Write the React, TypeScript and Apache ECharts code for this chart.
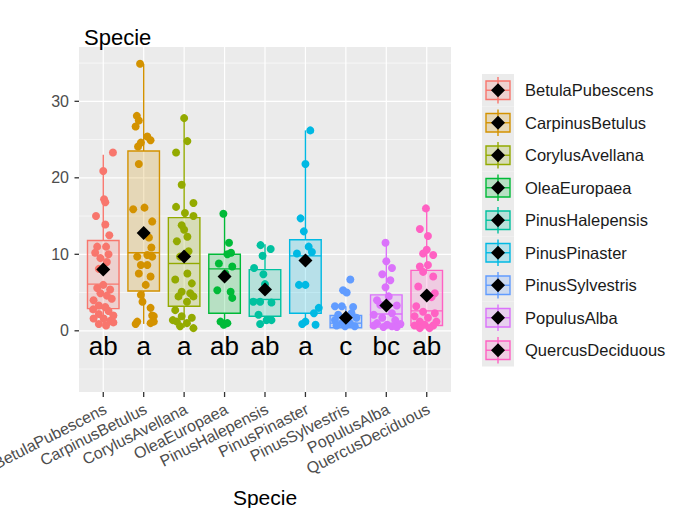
import React, { useEffect, useRef } from "react";
import * as echarts from "echarts";

const categories = [
  "BetulaPubescens", "CarpinusBetulus", "CorylusAvellana", "OleaEuropaea",
  "PinusHalepensis", "PinusPinaster", "PinusSylvestris", "PopulusAlba", "QuercusDeciduous",
];
const colors = ["#F8766D", "#D39200", "#93AA00", "#00BA38", "#00C19F", "#00B9E3", "#619CFF", "#DB72FB", "#FF61C3"];

const q1 = [2.9, 5.2, 3.2, 2.3, 1.9, 2.3, 0.4, 0.5, 0.7];
const medians = [6.1, 10.2, 8.8, 8.1, 4.1, 9.8, 1.0, 2.2, 2.6];
const q3 = [11.8, 23.5, 14.8, 10.0, 8.0, 11.9, 2.0, 4.7, 7.9];
const whiskerLow = [0.5, 0.9, 0.4, 0.8, 0.9, 0.8, 0.3, 0.4, 0.3];
const whiskerHigh = [23.0, 34.9, 27.7, 15.4, 11.3, 26.2, 3.2, 11.5, 16.0];
const means = [8.0, 12.8, 9.7, 7.1, 5.4, 9.2, 1.7, 3.3, 4.6];
const letters = ["ab", "a", "a", "ab", "ab", "a", "c", "bc", "ab"];
const letterLevel = -2.0;

const yTicks = [0, 10, 20, 30];
const yMinorGrid = [-5, 5, 15, 25, 35];

// jittered observations: values and horizontal jitter (category units)
const betulaVals = [23.3, 20.9, 17.2, 16.8, 15.0, 13.9, 12.5, 11.0, 11.0, 10.2, 10.0, 9.5, 9.0, 8.1, 6.0, 5.6, 5.4, 4.9, 4.6, 4.0, 4.2, 3.3, 3.1, 2.8, 2.6, 2.2, 2.0, 1.6, 1.6, 1.3, 0.9, 0.7, 1.1];
const betulaJit = [0.24, 0, 0.02, 0.05, -0.18, 0.05, 0.15, -0.15, 0.07, -0.2, 0.13, -0.07, 0.09, -0.11, 0, -0.15, 0.17, -0.07, 0.09, -0.24, 0.21, -0.11, 0.05, -0.25, 0.13, -0.11, 0.25, -0.24, 0.01, 0.17, -0.11, 0.07, 0.25];
const carpinusVals = [34.9, 28.1, 27.5, 26.7, 25.4, 24.9, 24.6, 24.1, 21.8, 15.9, 16.1, 14.3, 12.2, 10.9, 9.7, 8.6, 8.6, 9.7, 7.5, 7.1, 6.0, 4.7, 3.8, 3.0, 1.9, 1.2, 1.0, 2.0, 1.2, 0.9, 9.9];
const carpinusJit = [-0.09, -0.17, -0.12, -0.2, 0.09, 0.17, -0.07, -0.14, -0.12, -0.26, 0.02, 0.21, 0.13, 0.19, -0.16, -0.07, 0.09, 0.21, -0.12, 0.17, 0.05, -0.07, -0.03, 0.17, 0.25, -0.16, 0.17, 0.21, 0.25, -0.2, 0.09];
const corylusVals = [27.8, 24.8, 23.3, 19.1, 16.2, 16.7, 15.4, 15.0, 13.8, 13.2, 12.3, 11.7, 10.4, 9.7, 7.5, 6.7, 6.2, 5.1, 4.9, 4.5, 4.5, 3.8, 2.7, 1.9, 1.7, 1.2, 1.0, 0.35, 0.6, 1.4];
const corylusJit = [0, 0.08, -0.2, -0.06, -0.2, 0.23, 0.02, 0.23, -0.06, 0, 0.08, -0.18, 0.11, -0.1, 0.08, -0.22, 0.19, -0.06, 0.15, 0.23, -0.14, 0.07, -0.22, -0.06, 0.19, -0.18, 0.07, 0.23, -0.1, -0.28];
const oleaVals = [15.3, 11.5, 10.2, 10.0, 8.8, 8.4, 7.5, 5.3, 5.1, 4.3, 1.2, 0.8, 1.0];
const oleaJit = [-0.03, 0.11, 0.16, 0.07, -0.14, 0.19, 0.02, -0.18, 0.15, 0.19, -0.1, -0.02, 0.07];
const halepensisVals = [11.2, 10.7, 9.8, 8.2, 7.4, 6.1, 3.8, 3.8, 3.7, 2.1, 1.4, 1.4, 0.9];
const halepensisJit = [-0.11, 0.14, -0.06, -0.27, -0.04, 0, -0.29, -0.12, 0.16, -0.16, 0.04, 0.16, -0.12];
const pinasterVals = [26.2, 21.8, 14.7, 13.0, 11.0, 10.1, 10.3, 6.0, 6.0, 3.0, 2.3, 1.2, 0.8, 0.9];
const pinasterJit = [0.12, 0, -0.12, -0.04, 0.08, -0.21, 0.16, -0.16, 0, 0.33, 0.21, 0, 0.25, -0.08];
const sylvestrisVals = [6.7, 5.3, 5.0, 3.2, 3.2, 3.1, 2.1, 2.3, 1.4, 1.7, 1.0, 1.0, 0.6, 0.7, 0.6];
const sylvestrisJit = [0.11, -0.07, 0.02, -0.27, -0.1, 0.18, -0.19, 0.14, -0.27, 0.26, -0.1, 0.1, -0.02, -0.23, 0.22];
const populusVals = [11.5, 9.1, 8.2, 7.4, 6.6, 5.7, 4.5, 4.0, 3.4, 3.3, 2.1, 2.3, 1.7, 1.4, 1.0, 0.8, 0.9, 0.7, 0.6, 0.5, 0.5];
const populusJit = [-0.02, 0, 0.14, -0.1, 0.1, -0.02, 0.06, -0.23, -0.15, 0.26, -0.31, 0.14, -0.1, 0.22, -0.23, 0.02, 0.35, -0.31, 0.14, -0.07, 0.26];
const quercusVals = [16.0, 13.3, 12.4, 10.6, 9.9, 10.1, 8.4, 8.6, 7.7, 7.1, 5.8, 4.9, 3.2, 2.5, 2.3, 1.9, 1.7, 1.2, 1.2, 0.8, 0.7, 0.7, 0.35, 0.35, 4.4];
const quercusJit = [-0.02, -0.17, 0.03, 0, 0.16, -0.09, -0.17, 0.03, -0.09, 0.16, -0.21, 0.2, -0.26, -0.09, 0.2, -0.3, 0.03, -0.17, 0.24, -0.05, -0.3, 0.16, -0.17, 0.07, 0.12];

const pointValues = [betulaVals, carpinusVals, corylusVals, oleaVals, halepensisVals, pinasterVals, sylvestrisVals, populusVals, quercusVals];
const pointJitter = [betulaJit, carpinusJit, corylusJit, oleaJit, halepensisJit, pinasterJit, sylvestrisJit, populusJit, quercusJit];

const FONT = "'Liberation Sans', Arial, Helvetica, sans-serif";

function alpha(hex: string, a: number) {
  const n = parseInt(hex.slice(1), 16);
  return `rgba(${(n >> 16) & 255},${(n >> 8) & 255},${n & 255},${a})`;
}

export default function App() {
  const ref = useRef<HTMLDivElement>(null);
  useEffect(() => {
    if (!ref.current) return;
    const chart = echarts.init(ref.current, undefined, { renderer: "svg" });

    // [value, kind]: 0 major horizontal, 1 minor horizontal, 2 vertical
    const gridData: number[][] = [];
    yTicks.forEach((v) => gridData.push([v, 0]));
    yMinorGrid.forEach((v) => gridData.push([v, 1]));
    categories.forEach((_, i) => gridData.push([i, 2]));

    const boxData = categories.map((_, i) => [i, whiskerLow[i], q1[i], medians[i], q3[i], whiskerHigh[i]]);
    const tickColor = "#333333";

    const series: any[] = [];
    series.push({
      type: "custom",
      z: 1,
      silent: true,
      clip: false,
      data: gridData,
      encode: { x: 0 },
      renderItem: (params: any, api: any) => {
        const cs = params.coordSys;
        const v = api.value(0);
        const t = api.value(1);
        if (t === 2) {
          const x = api.coord([v, 0])[0];
          return {
            type: "group",
            children: [
              { type: "line", shape: { x1: x, y1: cs.y, x2: x, y2: cs.y + cs.height }, style: { stroke: "#FFFFFF", lineWidth: 1.2 } },
              { type: "line", shape: { x1: x, y1: cs.y + cs.height, x2: x, y2: cs.y + cs.height + 5 }, style: { stroke: tickColor, lineWidth: 1.3 } },
            ],
          };
        }
        const y = api.coord([0, v])[1];
        const children: any[] = [
          { type: "line", shape: { x1: cs.x, y1: y, x2: cs.x + cs.width, y2: y }, style: { stroke: "#FFFFFF", lineWidth: t === 0 ? 1.2 : 0.6 } },
        ];
        if (t === 0) {
          children.push({ type: "line", shape: { x1: cs.x - 4.5, y1: y, x2: cs.x, y2: y }, style: { stroke: tickColor, lineWidth: 1.3 } });
        }
        return { type: "group", children };
      },
    });
    series.push({
      type: "custom",
      z: 2,
      silent: true,
      data: boxData,
      encode: { x: 0, y: [1, 5] },
      renderItem: (params: any, api: any) => {
        const i = api.value(0);
        const c = colors[i];
        const hw = 0.39;
        const lo = api.coord([i, api.value(1)]);
        const b1 = api.coord([i - hw, api.value(2)]);
        const md = api.coord([i + hw, api.value(3)]);
        const b3 = api.coord([i + hw, api.value(4)]);
        const hi = api.coord([i, api.value(5)]);
        const left = b1[0];
        const right = b3[0];
        return {
          type: "group",
          children: [
            { type: "line", shape: { x1: hi[0], y1: hi[1], x2: hi[0], y2: b3[1] }, style: { stroke: c, lineWidth: 1.4 } },
            { type: "line", shape: { x1: lo[0], y1: b1[1], x2: lo[0], y2: lo[1] }, style: { stroke: c, lineWidth: 1.4 } },
            { type: "rect", shape: { x: left, y: b3[1], width: right - left, height: b1[1] - b3[1] }, style: { fill: alpha(c, 0.22), stroke: c, lineWidth: 1.4 } },
            { type: "line", shape: { x1: left, y1: md[1], x2: right, y2: md[1] }, style: { stroke: c, lineWidth: 1.4 } },
          ],
        };
      },
    });
    categories.forEach((name, i) => {
      series.push({
        type: "scatter",
        name,
        z: 3,
        symbol: "circle",
        symbolSize: 8,
        itemStyle: { color: colors[i], opacity: 1 },
        data: pointValues[i].map((v, k) => [i + pointJitter[i][k], v]),
        silent: true,
      });
    });
    series.push({
      type: "scatter",
      z: 4,
      symbol: "diamond",
      symbolSize: [14, 14],
      itemStyle: { color: "#000000", opacity: 1 },
      data: means.map((m, i) => [i, m]),
      silent: true,
    });
    series.push({
      type: "custom",
      z: 5,
      silent: true,
      data: letters.map((_, i) => [i, letterLevel]),
      renderItem: (params: any, api: any) => {
        const i = api.value(0);
        const p = api.coord([i, api.value(1)]);
        return {
          type: "text",
          x: p[0],
          y: p[1],
          style: { text: letters[i], align: "center", verticalAlign: "middle", fontSize: 26, fontFamily: FONT, fill: "#000000" },
        };
      },
    });

    const legendTop = 74;
    const keyH = 32.5;
    const legendGraphics: any[] = [];
    categories.forEach((name, i) => {
      const c = colors[i];
      const y0 = legendTop + i * keyH;
      legendGraphics.push({
        type: "group",
        x: 482,
        y: y0,
        silent: true,
        children: [
          { type: "rect", shape: { x: 0, y: 0, width: 32, height: keyH }, style: { fill: "#EBEBEB" } },
          { type: "line", shape: { x1: 16, y1: 3, x2: 16, y2: keyH - 3 }, style: { stroke: c, lineWidth: 1.4 } },
          { type: "rect", shape: { x: 4, y: 7, width: 24, height: 18.5 }, style: { fill: alpha(c, 0.22), stroke: c, lineWidth: 1.4 } },
          { type: "line", shape: { x1: 4, y1: keyH / 2, x2: 28, y2: keyH / 2 }, style: { stroke: c, lineWidth: 1.4 } },
          { type: "polygon", shape: { points: [[16, keyH / 2 - 7], [23, keyH / 2], [16, keyH / 2 + 7], [9, keyH / 2]] }, style: { fill: "#000000" } },
          { type: "text", x: 43, y: keyH / 2, style: { text: name, fontSize: 16.5, fontFamily: FONT, fill: "#1A1A1A", verticalAlign: "middle", align: "left" } },
        ],
      });
    });

    chart.setOption({
      animation: false,
      backgroundColor: "#FFFFFF",
      title: { text: "Specie", left: 79, top: 21, textStyle: { fontSize: 22, fontWeight: "normal", color: "#000000", fontFamily: FONT } },
      grid: { left: 79, right: 228, top: 47, bottom: 116, show: true, backgroundColor: "#EBEBEB", borderWidth: 0, containLabel: false, outerBoundsMode: "none" },
      xAxis: {
        type: "value",
        min: -0.6,
        max: 8.6,
        name: "Specie",
        nameLocation: "middle",
        nameGap: 95,
        nameTextStyle: { fontSize: 21, color: "#000000", fontFamily: FONT },
        axisLine: { show: false },
        splitLine: { show: false },
        axisTick: { show: false },
        axisLabel: {
          customValues: categories.map((_, i) => i + 0.05),
          formatter: (v: number) => categories[Math.round(v)] ?? "",
          rotate: 27,
          margin: 16,
          fontSize: 16,
          color: "#4D4D4D",
          fontFamily: FONT,
        },
      },
      yAxis: {
        type: "value",
        min: -8,
        max: 37.1,
        axisLine: { show: false },
        splitLine: { show: false },
        axisTick: { show: false },
        axisLabel: { customValues: yTicks, fontSize: 16, color: "#4D4D4D", margin: 10, fontFamily: FONT },
      },
      graphic: legendGraphics,
      series,
    });
    return () => chart.dispose();
  }, []);
  return <div ref={ref} style={{ position: "fixed", left: 0, top: 0, width: 679, height: 508 }} />;
}
